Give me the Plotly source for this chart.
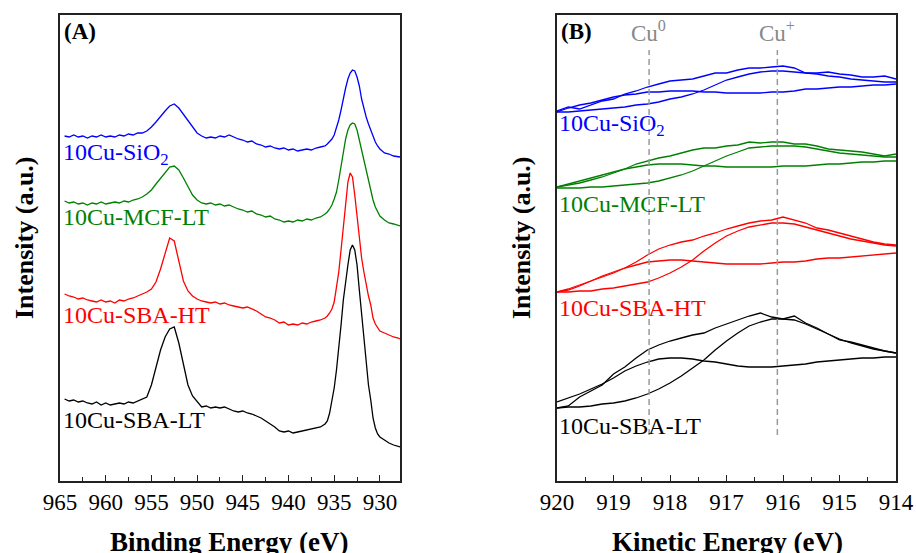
import plotly.graph_objects as go

# ---------------- Panel A: Cu LMM / Cu 2p survey, binding energy (eV) ----------------
E_A = [964.5, 964.0, 963.5, 963.0, 962.5, 962.0, 961.5, 961.0, 960.5, 960.0,
       959.5, 959.0, 958.5, 958.0, 957.5, 957.0, 956.5, 956.0, 955.5, 955.0,
       954.5, 954.0, 953.5, 953.0, 952.5, 952.0, 951.5, 951.0, 950.5, 950.0,
       949.5, 949.0, 948.5, 948.0, 947.5, 947.0, 946.5, 946.0, 945.5, 945.0,
       944.5, 944.0, 943.5, 943.0, 942.5, 942.0, 941.5, 941.0, 940.5, 940.0,
       939.5, 939.0, 938.5, 938.0, 937.5, 937.0, 936.5, 936.0,
       935.75, 935.5, 935.25, 935.0, 934.75, 934.5, 934.25, 934.0, 933.75, 933.5,
       933.25, 933.0, 932.75, 932.5, 932.25, 932.0, 931.75, 931.5, 931.25, 931.0,
       930.75, 930.5, 930.25, 930.0,
       929.5, 929.0, 928.5, 928.0, 927.8]

A_SiO2 = [345, 344, 346, 344, 345, 343, 345, 344, 346, 344,
          345, 344, 346, 345, 347, 346, 348, 348, 350, 354,
          359, 365, 370, 375, 377, 373, 367, 361, 354, 348,
          345, 343, 344, 343, 345, 344, 346, 344, 342, 341,
          339, 340, 337, 336, 334, 335, 333, 332, 333, 331,
          332, 330, 331, 332, 331, 333, 334, 335,
          337, 339, 342, 346, 353, 361, 371, 383, 393, 402,
          408, 411, 410, 404, 395, 382, 372, 364, 357, 351,
          344, 339, 335, 332,
          328, 327, 325, 324, 324]

A_MCF_LT = [280, 278, 279, 277, 278, 276, 278, 277, 279, 277,
            278, 279, 278, 280, 279, 281, 282, 284, 287, 291,
            297, 303, 309, 314, 315, 311, 303, 294, 286, 281,
            278, 277, 278, 276, 277, 275, 276, 274, 272, 271,
            269, 270, 267, 266, 264, 265, 262, 261, 259, 260,
            259, 261, 260, 262, 261, 263, 264, 267,
            269, 272, 276, 282, 289, 301, 315, 330, 342, 351,
            356, 358, 357, 351, 341, 329, 318, 308, 299, 290,
            281, 274, 269, 265,
            261, 258, 257, 256, 255]

A_SBA_HT = [187, 185, 184, 182, 183, 181, 180, 179, 181, 179,
            180, 178, 181, 180, 182, 183, 185, 187, 189, 192,
            199, 212, 227, 243, 240, 219, 200, 190, 185, 182,
            180, 179, 178, 179, 177, 178, 176, 175, 174, 173,
            174, 172, 170, 167, 164, 163, 161, 158, 159, 156,
            157, 156, 158, 157, 159, 160, 161, 163,
            165, 168, 172, 179, 192, 209, 231, 253, 281, 299,
            308, 304, 286, 263, 239, 223, 209, 196, 185, 176,
            163, 157, 153, 150,
            148, 146, 144, 143, 142]

A_SBA_LT = [82, 80, 81, 79, 80, 78, 77, 79, 76, 78,
            76, 77, 78, 77, 79, 78, 80, 82, 84, 96,
            113, 131, 144, 152, 154, 138, 117, 96, 85, 79,
            74, 75, 73, 74, 73, 74, 72, 70, 69, 70,
            68, 67, 65, 63, 60, 57, 54, 50, 49, 50,
            48, 49, 50, 51, 52, 53, 54, 57,
            60, 68, 79, 93, 111, 131, 156, 181, 201, 216,
            231, 236, 231, 216, 191, 166, 143, 113, 96, 81,
            63, 53, 47, 44,
            41, 38, 36, 34, 34]

# ---------------- Panel B: Cu LMM, kinetic energy (eV) ----------------
E_B = [920.0, 919.8, 919.6, 919.4, 919.2, 919.0, 918.8, 918.6, 918.4, 918.2,
       918.0, 917.8, 917.6, 917.4, 917.2, 917.0, 916.8, 916.6, 916.4, 916.2,
       916.0, 915.8, 915.6, 915.4, 915.2, 915.0, 914.8, 914.6, 914.4, 914.2, 914.0]

B_SiO2_raw = [370, 374, 372, 376, 380, 382, 387, 390, 394, 397, 400, 401, 402, 405, 408, 408,
              411, 413, 413, 414, 415, 413, 408, 408, 409, 407, 406, 404, 404, 405, 402]
B_SiO2_cu0 = [369, 373, 376, 378, 381, 384, 386, 387, 389, 389, 390, 390, 390, 389, 389, 388,
              388, 388, 388, 389, 389, 390, 392, 392, 393, 394, 394, 395, 396, 396, 397]
B_SiO2_cu1 = [369, 369, 370, 371, 372, 373, 374, 376, 377, 379, 382, 384, 387, 391, 396, 401,
              404, 407, 409, 410, 410, 409, 408, 407, 405, 404, 402, 401, 400, 399, 399]

B_MCF_raw = [294, 296, 298, 301, 304, 308, 312, 317, 320, 323, 325, 328, 331, 333, 333, 335,
             336, 339, 338, 339, 339, 337, 337, 335, 332, 331, 330, 329, 327, 325, 327]
B_MCF_cu0 = [294, 297, 300, 303, 306, 309, 312, 314, 316, 317, 317, 317, 316, 315, 315, 314,
             314, 314, 314, 314, 315, 315, 315, 316, 317, 317, 318, 319, 319, 320, 320]
B_MCF_cu1 = [293, 293, 293, 294, 294, 295, 296, 297, 298, 300, 303, 306, 310, 315, 320, 325,
             329, 333, 334, 335, 335, 335, 334, 332, 330, 328, 327, 326, 325, 324, 324]

B_HT_raw = [189, 191, 195, 200, 204, 208, 213, 219, 226, 232, 236, 239, 241, 245, 248, 252,
            255, 258, 260, 261, 264, 261, 258, 253, 251, 248, 245, 242, 239, 237, 236]
B_HT_cu0 = [189, 192, 196, 200, 205, 209, 213, 216, 219, 220, 221, 221, 220, 219, 218, 217,
            217, 217, 217, 218, 219, 219, 220, 222, 223, 223, 224, 225, 226, 227, 228]
B_HT_cu1 = [189, 189, 190, 190, 192, 193, 195, 197, 199, 203, 208, 214, 221, 230, 238, 245,
            250, 254, 256, 258, 258, 257, 254, 251, 248, 245, 242, 240, 238, 236, 235]

B_LT_raw = [73, 75, 84, 90, 96, 107, 114, 123, 131, 136, 140, 143, 146, 148, 153, 157,
            161, 165, 168, 164, 162, 165, 158, 153, 147, 141, 139, 136, 133, 130, 128]
B_LT_cu0 = [79, 83, 87, 92, 97, 103, 110, 115, 119, 122, 123, 123, 122, 120, 119, 117,
            115, 114, 114, 114, 115, 116, 117, 119, 120, 121, 122, 123, 123, 124, 124]
B_LT_cu1 = [73, 74, 74, 75, 77, 78, 80, 83, 87, 92, 98, 105, 113, 121, 131, 140,
            148, 155, 159, 162, 162, 161, 157, 152, 147, 142, 138, 135, 132, 130, 128]

CU_STATES = ["Cu<sup>0</sup>", "Cu<sup>+</sup>"]
CU_POSITIONS = [918.37, 916.1]

SAMPLES = ["10Cu-SiO<sub>2</sub>", "10Cu-MCF-LT", "10Cu-SBA-HT", "10Cu-SBA-LT"]
COLORS = ["#0000ff", "#008000", "#ff0000", "#000000"]

W, H = 916, 553
FONT = "Liberation Serif"


def px(x):
    return x / W


def py(y):
    return 1 - y / H


fig = go.Figure()

a_series = [A_SiO2, A_MCF_LT, A_SBA_HT, A_SBA_LT]
for name, ys, c in zip(SAMPLES, a_series, COLORS):
    fig.add_trace(go.Scatter(x=E_A, y=ys, mode="lines", line=dict(color=c, width=1.3),
                             xaxis="x", yaxis="y", showlegend=False, name=name))

b_series = [(B_SiO2_raw, B_SiO2_cu0, B_SiO2_cu1), (B_MCF_raw, B_MCF_cu0, B_MCF_cu1),
            (B_HT_raw, B_HT_cu0, B_HT_cu1), (B_LT_raw, B_LT_cu0, B_LT_cu1)]
for name, group, c in zip(SAMPLES, b_series, COLORS):
    for ys in group:
        fig.add_trace(go.Scatter(x=E_B, y=ys, mode="lines", line=dict(color=c, width=1.3),
                                 xaxis="x2", yaxis="y2", showlegend=False, name=name))

ydom = [py(481), py(15)]
axis_common = dict(showline=True, linecolor="#222222", linewidth=1.5, mirror=True,
                   showgrid=False, zeroline=False, automargin=False)

fig.update_layout(
    width=W, height=H, margin=dict(l=0, r=0, t=0, b=0, autoexpand=False),
    paper_bgcolor="white", plot_bgcolor="white",
    font=dict(family=FONT, color="black"),
    xaxis=dict(domain=[px(60), px(400)], range=[965, 927.8], anchor="y",
               tickmode="linear", tick0=930, dtick=5, ticks="inside", ticklen=6,
               tickwidth=1.3, tickcolor="#222222",
               minor=dict(ticks="inside", ticklen=4, dtick=2.5, tickcolor="#222222", tickwidth=1.3),
               tickfont=dict(size=23, family=FONT, color="black"), **axis_common),
    yaxis=dict(domain=ydom, range=[0, 466], anchor="x", showticklabels=False, ticks="",
               **axis_common),
    xaxis2=dict(domain=[px(557), px(896)], range=[920, 914], anchor="y2",
                tickmode="linear", tick0=914, dtick=1, ticks="inside", ticklen=6,
                tickwidth=1.3, tickcolor="#222222",
                minor=dict(ticks="inside", ticklen=4, dtick=0.5, tickcolor="#222222", tickwidth=1.3),
                tickfont=dict(size=23, family=FONT, color="black"), **axis_common),
    yaxis2=dict(domain=ydom, range=[0, 466], anchor="x2", showticklabels=False, ticks="",
                **axis_common),
)

# reference dashed lines for Cu0 / Cu+
for xpos in CU_POSITIONS:
    fig.add_shape(type="line", xref="x2", yref="y2 domain", x0=xpos, x1=xpos,
                  y0=(481 - 435) / 466, y1=(481 - 50) / 466,
                  line=dict(color="#999999", width=1.5, dash="6px,4px"))

ann = []
# panel tags
ann.append(dict(text="<b>(A)</b>", x=px(62), y=py(32), xanchor="left", yanchor="middle",
                font=dict(size=23, family=FONT, color="black")))
ann.append(dict(text="<b>(B)</b>", x=px(559), y=py(32), xanchor="left", yanchor="middle",
                font=dict(size=23, family=FONT, color="black")))
# Cu state labels
for label, cx in zip(CU_STATES, [648, 777]):
    ann.append(dict(text=label, x=px(cx), y=py(32), xanchor="center", yanchor="middle",
                    font=dict(size=23, family=FONT, color="#888888")))
# sample labels
a_label_y = [154, 217, 315, 420]
b_label_y = [125, 204, 308, 426]
for name, c, ya, yb in zip(SAMPLES, COLORS, a_label_y, b_label_y):
    ann.append(dict(text=name, x=px(61), y=py(ya), xanchor="left", yanchor="middle",
                    font=dict(size=24, family=FONT, color=c)))
    ann.append(dict(text=name, x=px(557), y=py(yb), xanchor="left", yanchor="middle",
                    font=dict(size=24, family=FONT, color=c)))
# axis titles
ann.append(dict(text="<b>Binding Energy (eV)</b>", x=px(230), y=py(542), xanchor="center",
                yanchor="middle", font=dict(size=27, family=FONT, color="black")))
ann.append(dict(text="<b>Kinetic Energy (eV)</b>", x=px(727), y=py(542), xanchor="center",
                yanchor="middle", font=dict(size=27, family=FONT, color="black")))
ann.append(dict(text="<b>Intensity (a.u.)</b>", x=px(24), y=py(238), xanchor="center",
                yanchor="middle", textangle=-90, font=dict(size=26, family=FONT, color="black")))
ann.append(dict(text="<b>Intensity (a.u.)</b>", x=px(521), y=py(238), xanchor="center",
                yanchor="middle", textangle=-90, font=dict(size=26, family=FONT, color="black")))

for a in ann:
    a.update(xref="paper", yref="paper", showarrow=False)
fig.update_layout(annotations=ann)

fig.write_html("out.html")
